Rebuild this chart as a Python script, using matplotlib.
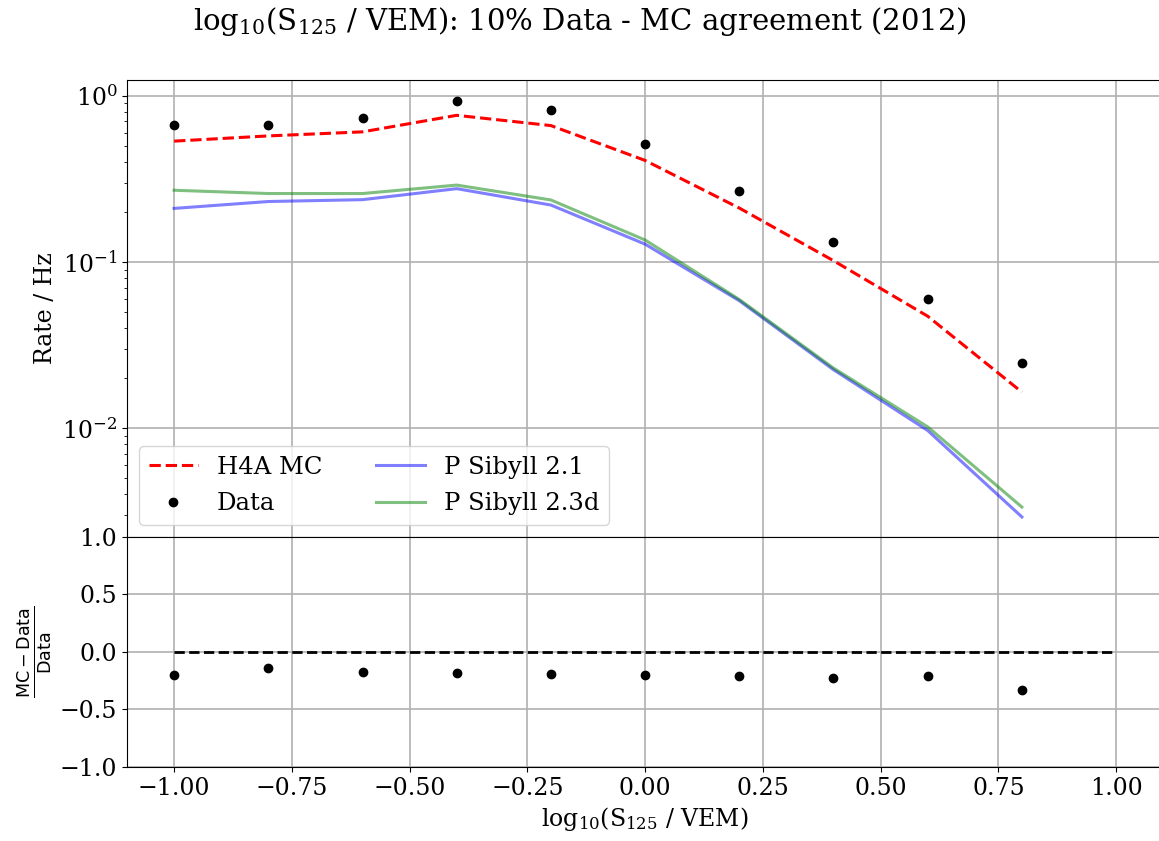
import numpy as np
import matplotlib
matplotlib.use('Agg')
import matplotlib.pyplot as plt

plt.rcParams['font.family'] = 'DejaVu Serif'
plt.rcParams['mathtext.fontset'] = 'dejavuserif'
plt.rcParams['font.size'] = 17

# log10(S125/VEM) bin centres
x = [-1.0, -0.8, -0.6, -0.4, -0.2, 0.0, 0.2, 0.4, 0.6, 0.8]
# rates in Hz
data = [0.666, 0.666, 0.731, 0.933, 0.817, 0.510, 0.268, 0.131, 0.0597, 0.0248]
h4a = [0.533, 0.573, 0.606, 0.762, 0.661, 0.408, 0.211, 0.1018, 0.0472, 0.0165]
sib21 = [0.210, 0.231, 0.237, 0.276, 0.220, 0.128, 0.0585, 0.0225, 0.0097, 0.00293]
sib23d = [0.270, 0.258, 0.258, 0.290, 0.236, 0.1356, 0.0595, 0.0230, 0.0102, 0.00336]

ratio = (np.array(h4a) - np.array(data)) / np.array(data)

fig = plt.figure(figsize=(11.59, 8.41), dpi=100)
ax1 = fig.add_axes([0.1096, 0.3615, 0.894, 0.5434])
ax2 = fig.add_axes([0.1096, 0.088, 0.894, 0.2735], sharex=ax1)

ax1.plot(x, h4a, 'r--', lw=2.2, label='H4A MC')
ax1.plot(x, data, 'ko', ms=6, lw=0, label='Data')
ax1.plot(x, sib21, color='b', alpha=0.5, lw=2.2, label='P Sibyll 2.1')
ax1.plot(x, sib23d, color='g', alpha=0.5, lw=2.2, label='P Sibyll 2.3d')
ax1.set_yscale('log')
ax1.set_ylim(0.00222, 1.243)
ax1.set_ylabel('Rate / Hz')
ax1.grid(True, lw=1.2)
ax1.tick_params(labelbottom=False)
ax1.legend(loc='lower left', ncol=2, fontsize=17.5, handlelength=2.0,
           columnspacing=2.2, labelspacing=0.55)

ax2.plot([-1, 1], [0, 0], 'k--', lw=2)
ax2.plot(x, ratio, 'ko', ms=6)
ax2.set_ylim(-1, 1)
ax2.set_yticks([-1.0, -0.5, 0.0, 0.5, 1.0])
ax2.set_xlim(-1.1, 1.1)
ax2.set_xticks([-1.0, -0.75, -0.5, -0.25, 0.0, 0.25, 0.5, 0.75, 1.0])
ax2.grid(True, lw=1.2)
ax2.set_xlabel(r'log$_{10}$(S$_{125}$ / VEM)')
ax2.set_ylabel(r'$\frac{\mathsf{MC} - \mathsf{Data}}{\mathsf{Data}}$', fontsize=18)

fig.text(0.5, 1 - 22/841, r'log$_{10}$(S$_{125}$ / VEM): 10% Data - MC agreement (2012)',
         ha='center', va='center', fontsize=21)

plt.savefig('out.png', dpi=100)
